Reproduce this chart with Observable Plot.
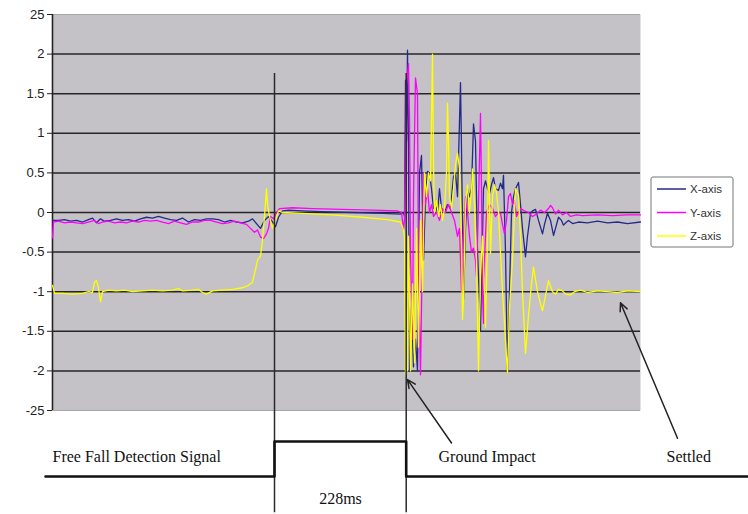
<!DOCTYPE html>
<html>
<head>
<meta charset="utf-8">
<script src="https://cdn.jsdelivr.net/npm/d3@7"></script>
<script src="https://cdn.jsdelivr.net/npm/@observablehq/plot@0.6"></script>
<style>
  html, body { margin: 0; padding: 0; background: #ffffff; }
  #chart { width: 748px; height: 514px; }
</style>
</head>
<body>
<div id="chart"></div>
<script>
// ---------------- DATA (sample index, acceleration in g) ----------------
const seriesNames = ["X-axis", "Y-axis", "Z-axis"];

const xAxisSample = [0,6,12,18,24,30,36,40,44,48,52,58,64,70,76,82,88,94,100,106,112,118,124,130,136,142,148,154,160,166,172,178,184,190,196,200,204,208,212,216,220,223,226,230,236,250,270,300,330,348,351,
  352,353,354,355,356,357,359,361,363,365,367,369,371,373,375,377,379,381,383,385,387,389,392,395,398,401,403,405,408,409,411,413,415,417,419,421,423,425,427,428,430,431,433,435,437,439,441,443,446,448,450,451,453,455,457,459,461,463,466,468,470,473,475,478,480,483,486,490,492,495,498,501,503,506,509,511,514,516,520,526,535,545,555,565,575,588];
const xAxisValue = [-0.1,-0.1,-0.09,-0.11,-0.1,-0.12,-0.09,-0.07,-0.13,-0.08,-0.11,-0.1,-0.08,-0.1,-0.09,-0.11,-0.08,-0.06,-0.07,-0.05,-0.07,-0.09,-0.1,-0.07,-0.12,-0.09,-0.1,-0.08,-0.08,-0.09,-0.12,-0.1,-0.12,-0.13,-0.11,-0.08,-0.14,-0.2,-0.1,-0.05,-0.12,-0.18,-0.06,0.02,0.03,0.02,0.01,0.0,-0.01,-0.02,0.0,
  -0.05,1.67,0.9,2.05,0.8,-2.0,-1.2,-1.95,-1.6,-2.0,0.5,0.72,-0.6,0.2,0.52,0.5,0.3,0.05,0.1,0.0,0.3,0.05,0.0,0.1,0.05,0.45,0.5,0.2,1.64,0.8,-1.1,-0.2,0.3,0.2,0.3,1.12,0.9,-0.5,-1.1,-1.5,-0.3,0.3,0.4,0.3,0.24,0.35,0.44,0.3,0.28,0.37,0.3,0.47,-0.5,-2.03,-1.0,0.0,0.2,0.3,0.38,0.1,-0.2,-0.56,-0.3,-0.01,0.02,0.04,-0.1,-0.27,-0.15,-0.01,-0.1,-0.29,-0.2,-0.06,-0.1,-0.16,-0.12,-0.1,-0.14,-0.12,-0.13,-0.11,-0.13,-0.12,-0.14,-0.12];

const yAxisSample = [0,1,6,12,18,24,30,36,42,46,50,56,62,68,74,80,86,92,98,104,110,116,122,128,134,140,146,152,158,164,170,176,182,188,194,198,202,205,208,211,214,216,218,221,224,227,240,260,290,320,345,349,350,351,352,
  353,354,356,357,358,360,361,363,365,366,368,369,371,373,375,377,379,381,384,387,390,393,396,399,402,405,407,408,409,411,413,415,417,419,421,423,424,426,428,429,430,431,432,434,437,440,443,446,448,450,452,454,456,458,460,462,464,466,468,472,476,480,484,488,492,496,498,500,503,506,510,514,518,524,530,545,560,575,588];
const yAxisValue = [-0.32,-0.12,-0.11,-0.13,-0.12,-0.13,-0.14,-0.12,-0.1,-0.14,-0.12,-0.11,-0.13,-0.12,-0.13,-0.11,-0.12,-0.1,-0.11,-0.1,-0.12,-0.14,-0.11,-0.13,-0.15,-0.12,-0.12,-0.1,-0.1,-0.12,-0.14,-0.13,-0.11,-0.13,-0.15,-0.2,-0.25,-0.22,-0.31,-0.33,-0.27,-0.2,-0.05,-0.08,0.0,0.05,0.06,0.05,0.04,0.03,0.02,0.0,-0.1,-0.22,-0.1,
  0.8,1.6,1.88,1.2,-0.5,-1.6,0.2,1.7,1.5,-0.8,-2.05,-1.2,0.5,0.1,0.3,0.0,0.1,-0.05,0.0,-0.1,0.05,0.0,0.1,0.0,-0.1,-0.3,-0.2,-0.6,-1.0,-0.3,0.2,0.0,-0.3,-0.5,-0.45,-0.6,-0.8,0.1,1.25,0.3,-1.0,-1.4,-0.6,0.0,0.1,0.05,-0.05,0.0,-0.01,-0.15,-0.27,-0.1,0.2,0.24,0.1,0.15,-0.05,0.0,0.05,0.02,0.0,-0.05,-0.02,0.03,0.0,0.05,0.09,0.06,-0.02,0.03,-0.03,0.0,-0.05,-0.03,-0.04,-0.03,-0.04,-0.03,-0.03];

const zAxisSample = [0,2,10,20,30,36,40,42,44,46,48,50,56,64,72,80,90,100,110,120,126,130,140,146,150,154,160,170,180,190,196,200,203,205,208,210,212,214,215,217,220,223,226,230,250,280,310,335,348,350,351,352,
  353,354,355,356,357,358,360,362,364,366,368,370,372,374,376,378,380,381,382,384,386,388,390,392,394,395,396,397,399,401,403,405,407,409,410,411,413,415,417,419,420,422,424,426,428,430,432,433,435,436,438,440,442,444,446,448,450,452,455,457,460,462,463,466,468,470,473,476,479,481,485,488,490,493,496,500,503,506,510,513,518,522,528,535,545,555,565,575,588];
const zAxisValue = [-0.92,-1.02,-1.02,-1.03,-1.02,-1.0,-1.01,-0.88,-0.86,-0.95,-1.13,-1.0,-0.98,-0.99,-0.98,-1.0,-0.99,-0.98,-0.99,-0.98,-0.96,-0.99,-0.98,-0.97,-1.01,-1.03,-0.99,-0.98,-0.97,-0.95,-0.92,-0.88,-0.72,-0.6,-0.55,-0.35,-0.05,0.3,0.1,-0.05,-0.2,-0.1,0.02,0.0,-0.01,-0.03,-0.06,-0.09,-0.12,-0.18,-0.23,-0.3,
  -2.05,-1.2,-2.0,-0.3,-1.0,-2.0,-0.9,-1.9,-0.2,-1.7,-0.1,-1.0,0.5,0.2,0.5,0.4,2.0,0.6,0.0,0.15,-0.05,0.1,-0.1,0.05,0.5,1.38,0.9,0.2,0.05,0.3,0.6,0.75,0.55,-0.3,-1.35,-1.1,0.1,0.35,0.0,0.3,0.55,0.1,-0.6,-2.0,-0.8,-0.3,-1.0,-1.45,-0.3,0.91,-0.52,0.2,0.35,0.25,0.0,-0.5,-1.0,-1.4,-2.03,-1.2,-0.6,0.0,0.3,0.22,-0.3,-1.0,-1.78,-1.3,-0.9,-0.69,-1.0,-1.15,-1.24,-1.05,-0.86,-1.0,-1.03,-0.97,-0.99,-1.03,-1.04,-1.0,-0.98,-1.01,-0.99,-1.0,-1.01,-0.99,-1.0];

// free-fall detection signal (0 = low, 1 = high)
const signalSample = [-7, 222, 222, 353.7, 353.7, 696];
const signalLevel  = [0, 0, 1, 1, 0, 0];
const eventSamples = [222, 353.7];

// y-axis ticks and their printed labels
const yTicks      = [2.5, 2, 1.5, 1, 0.5, 0, -0.5, -1, -1.5, -2, -2.5];
const yTickLabels = ["25", "2", "1.5", "1", "0.5", "0", "-0.5", "-1", "-1.5", "-2", "-25"];
const gridValues  = [2, 1.5, 1, 0.5, 0, -0.5, -1, -1.5, -2];

// annotation texts
const noteTexts = ["Free Fall Detection Signal", "Ground Impact", "Settled"];
const durationText = ["228ms"];

// ---------------- LAYOUT (positions in chart units) ----------------
const layout = {
  signalLowY: -3.333, signalHighY: -2.891,
  eventTopY: 1.755, eventBottomY: -3.79,
  noteX: [0, 386, 614], noteY: -3.09,
  durationX: 288, durationY: -3.61,
  arrows: [
    {x1: 399, y1: -2.91, x2: 355, y2: -2.11},
    {x1: 625, y1: -2.85, x2: 568, y2: -1.14}
  ]
};
const colors = {"X-axis": "#25298c", "Y-axis": "#ff00ff", "Z-axis": "#ffff00"};

// ---------------- BUILD ----------------
const toRows = (name, s, v) => s.map((d, i) => ({series: name, sample: d, value: v[i]}));
const rowsX = toRows("X-axis", xAxisSample, xAxisValue);
const rowsY = toRows("Y-axis", yAxisSample, yAxisValue);
const rowsZ = toRows("Z-axis", zAxisSample, zAxisValue);
const signalRows = signalSample.map((s, i) => ({sample: s, y: signalLevel[i] ? layout.signalHighY : layout.signalLowY}));
const notes = noteTexts.map((t, i) => ({text: t, x: layout.noteX[i], y: layout.noteY}));
const durationNote = durationText.map(t => ({text: t, x: layout.durationX, y: layout.durationY}));
const labelMap = new Map(yTicks.map((t, i) => [t, yTickLabels[i]]));
const serif = "'Liberation Serif', 'Times New Roman', serif";

const chart = Plot.plot({
  width: 748,
  height: 514,
  marginLeft: 52,
  marginRight: 108,
  marginTop: 14,
  marginBottom: 104,
  style: {fontFamily: "'Liberation Sans', Arial, sans-serif", fontSize: "13px", background: "#ffffff", color: "#222"},
  x: {domain: [0, 588], axis: null},
  y: {domain: [-2.5, 2.5], axis: null},
  marks: [
    Plot.frame({fill: "#c4c2c7", stroke: null}),
    Plot.ruleY([2.5, -2.5], {stroke: "#a8a6aa", strokeWidth: 1}),
    Plot.ruleY(gridValues, {stroke: "#262626", strokeWidth: 1.5}),
    Plot.axisY({ticks: yTicks, tickFormat: d => labelMap.get(d), tickSize: 5, tickPadding: 3,
      stroke: "#222", fill: "#222", fontSize: 13, label: null}),
    Plot.ruleX([0], {y1: -2.5, y2: 2.5, stroke: "#222", strokeWidth: 1.6}),
    Plot.line(rowsX, {x: "sample", y: "value", stroke: colors["X-axis"], strokeWidth: 1.3}),
    Plot.line(rowsY, {x: "sample", y: "value", stroke: colors["Y-axis"], strokeWidth: 1.3}),
    Plot.line(rowsZ, {x: "sample", y: "value", stroke: colors["Z-axis"], strokeWidth: 1.3}),
    Plot.ruleX(eventSamples, {y1: layout.eventTopY, y2: layout.eventBottomY, stroke: "#2a2a2a", strokeWidth: 1.5}),
    Plot.line(signalRows, {x: "sample", y: "y", stroke: "#111", strokeWidth: 2.6}),
    Plot.arrow(layout.arrows, {x1: "x1", y1: "y1", x2: "x2", y2: "y2", stroke: "#222", strokeWidth: 1.5, headLength: 9, headAngle: 50, bend: 0}),
    Plot.text(notes, {x: "x", y: "y", text: "text", textAnchor: "start", fontFamily: serif, fontSize: 16, fill: "#111"}),
    Plot.text(durationNote, {x: "x", y: "y", text: "text", textAnchor: "middle", fontFamily: serif, fontSize: 16, fill: "#111"})
  ]
});

document.getElementById("chart").appendChild(chart);

// legend box (drawn into the same svg)
const svg = d3.select(chart);
const lg = svg.append("g").attr("transform", "translate(651,177)");
lg.append("rect").attr("width", 82).attr("height", 70).attr("rx", 2)
  .attr("fill", "#ffffff").attr("stroke", "#777").attr("stroke-width", 1);
seriesNames.forEach((name, i) => {
  const yy = 12 + i * 23.5;
  lg.append("line").attr("x1", 6).attr("x2", 35).attr("y1", yy).attr("y2", yy)
    .attr("stroke", colors[name]).attr("stroke-width", 1.5);
  lg.append("text").attr("x", 39).attr("y", yy).attr("dy", "0.35em")
    .attr("text-anchor", "start")
    .attr("font-family", "'Liberation Sans', Arial, sans-serif").attr("font-size", 11.5)
    .attr("fill", "#333").text(name);
});
</script>
</body>
</html>
